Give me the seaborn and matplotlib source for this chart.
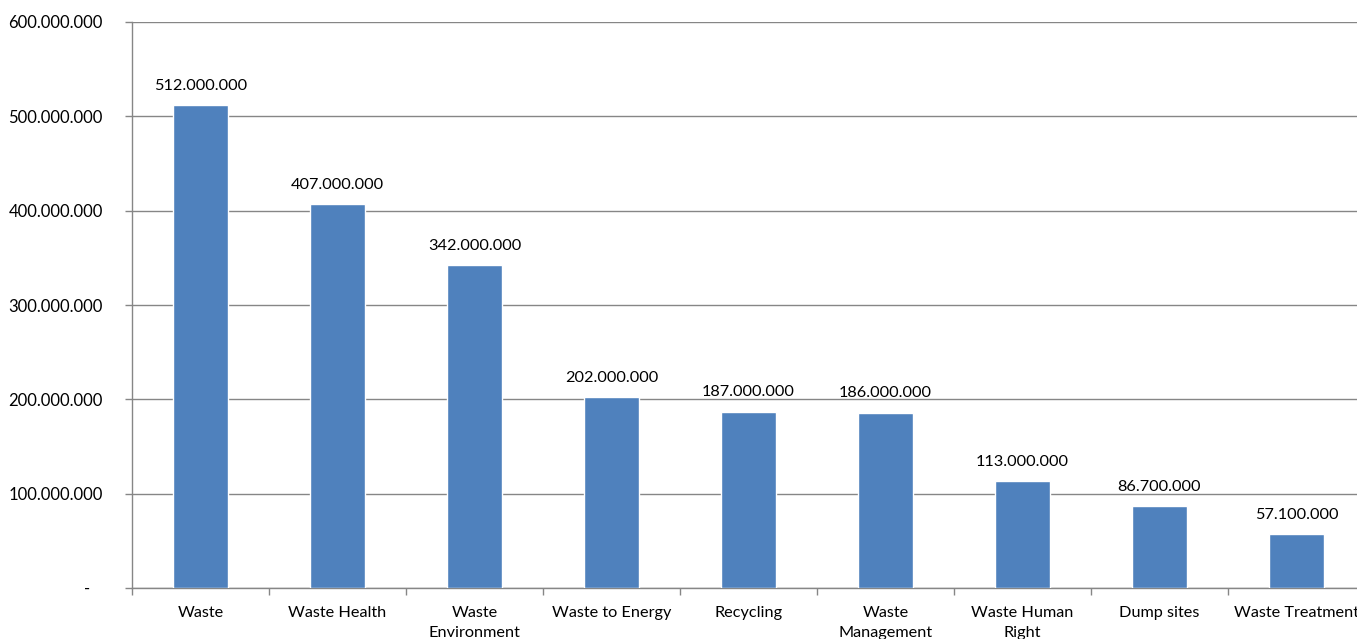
import seaborn as sns
import matplotlib.pyplot as plt
import pandas as pd
from matplotlib.ticker import FixedLocator, FuncFormatter

# Data
categories = ["Waste", "Waste Health", "Waste\nEnvironment", "Waste to Energy",
              "Recycling", "Waste\nManagement", "Waste Human\nRight", "Dump sites",
              "Waste Treatment"]
values = [512000000, 407000000, 342000000, 202000000, 187000000,
          186000000, 113000000, 86700000, 57100000]
y_ticks = [0, 100000000, 200000000, 300000000, 400000000, 500000000, 600000000]

sns.set_style("white")
plt.rcParams['font.family'] = ['Lato', 'DejaVu Sans']

df = pd.DataFrame({"category": categories, "value": values})

fig = plt.figure(figsize=(13.57, 6.39), dpi=100)
ax = fig.add_axes([132 / 1357, 51 / 639, 1233 / 1357, 566 / 639])

sns.barplot(data=df, x="category", y="value", color="#4F81BD", width=0.4,
            saturation=1, ax=ax, zorder=3)


def dotted(v):
    if v == 0:
        return "-   "
    return f"{v:,.0f}".replace(",", ".")


# data labels
for i, v in enumerate(values):
    ax.annotate(dotted(v), (i, v), xytext=(0, 9), textcoords="offset points",
                ha="center", va="bottom", fontsize=11.7, color="black")

ax.set_xlim(-0.5, len(categories) - 0.5)
ax.set_ylim(0, 600000000)
ax.yaxis.set_major_locator(FixedLocator(y_ticks))
ax.yaxis.set_major_formatter(FuncFormatter(lambda v, p: dotted(v)))
ax.grid(axis="y", color="#868686", linewidth=1, zorder=0)
ax.set_axisbelow(True)

ax.set_xlabel("")
ax.set_ylabel("")

# tick marks at category boundaries
ax.xaxis.set_minor_locator(FixedLocator([i - 0.5 for i in range(len(categories) + 1)]))
ax.tick_params(axis="x", which="major", length=0, pad=13, labelsize=11.7, colors="black")
ax.tick_params(axis="x", which="minor", length=5, width=1, color="#868686", direction="out")
ax.tick_params(axis="y", which="major", length=5, width=1, color="#868686", direction="out",
               pad=16, labelsize=12, labelcolor="black")
ax.tick_params(bottom=True, left=True, which="both")
for lbl in ax.get_xticklabels():
    lbl.set_linespacing(1.5)

for side in ["top", "right"]:
    ax.spines[side].set_visible(False)
for side in ["left", "bottom"]:
    ax.spines[side].set_color("#868686")
    ax.spines[side].set_linewidth(1)

fig.savefig("out.png", dpi=100)
